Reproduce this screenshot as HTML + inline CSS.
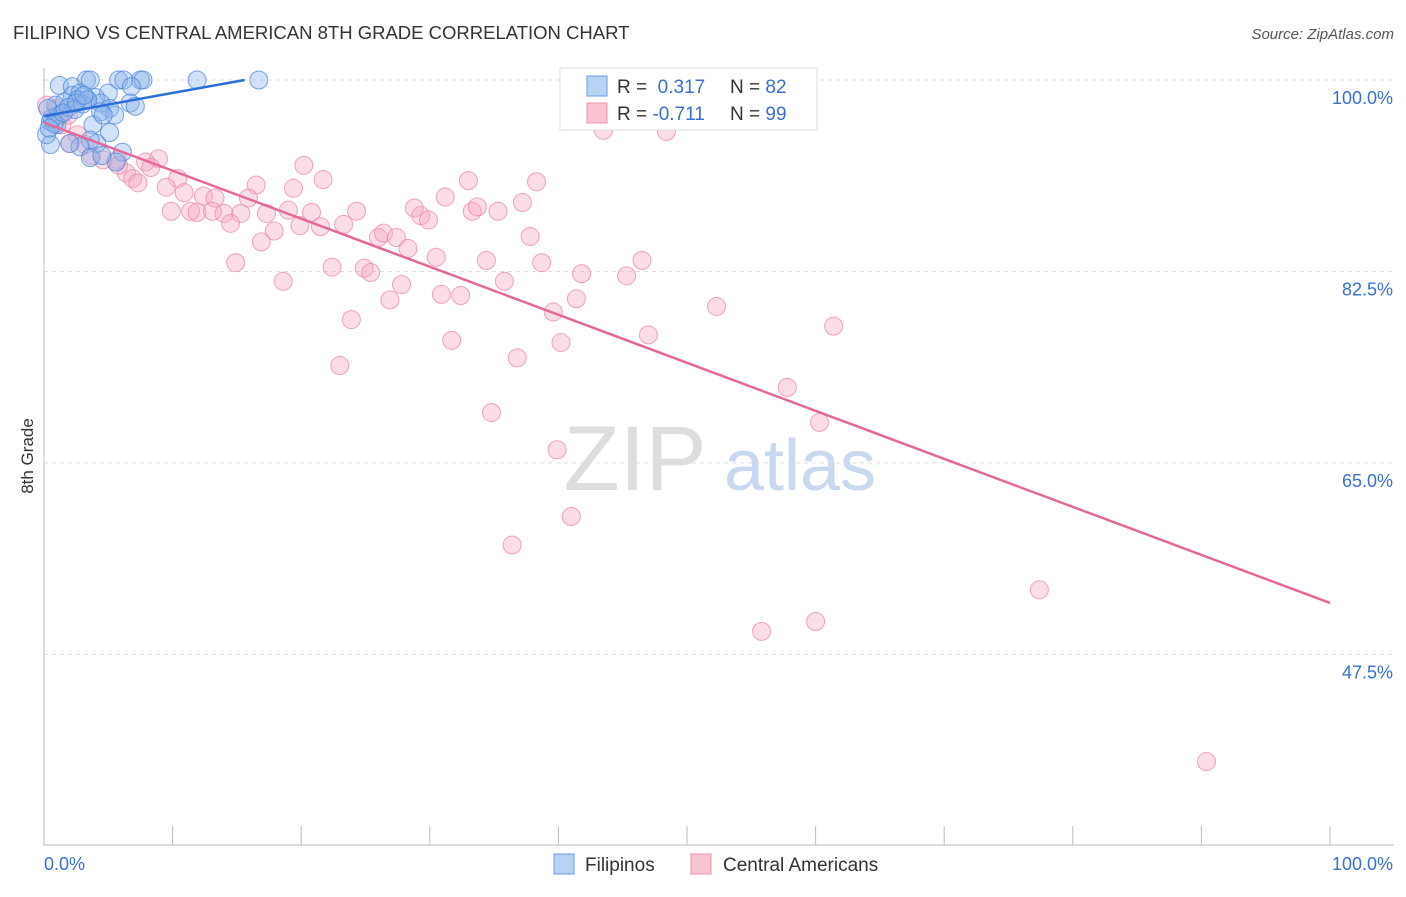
<!DOCTYPE html>
<html><head><meta charset="utf-8"><style>
body{margin:0;background:#fff;font-family:"Liberation Sans",sans-serif}
svg text{font-family:"Liberation Sans",sans-serif}
</style></head><body>
<svg id="chart" width="1406" height="892" xmlns="http://www.w3.org/2000/svg">
<text x="13" y="39" font-size="18.5" fill="#333">FILIPINO VS CENTRAL AMERICAN 8TH GRADE CORRELATION CHART</text>
<text x="1394" y="39" font-size="15" fill="#555" text-anchor="end" font-style="italic">Source: ZipAtlas.com</text>
<text transform="translate(33,456) rotate(-90)" font-size="17" fill="#333" text-anchor="middle">8th Grade</text>
<g><text x="635" y="490" font-size="92" fill="#ddd" text-anchor="middle" font-family="Liberation Serif">ZIP</text><text x="800" y="490" font-size="72" fill="#c8d8ee" text-anchor="middle">atlas</text></g>
<g id="grid"></g><g id="axes"></g><g id="pts"></g><g id="trend"></g>
<g>
<rect x="560" y="68" width="257" height="62" fill="#fff" stroke="#ddd"/>
<rect x="587" y="76" width="20" height="20" fill="#b8d2f4" stroke="#6a9de0"/>
<rect x="587" y="103" width="20" height="20" fill="#f8c4d2" stroke="#ea94ae"/>
<text x="617" y="93" font-size="19" fill="#333">R = <tspan fill="#3a6fd0">&#160;0.317</tspan><tspan x="730">N = </tspan><tspan fill="#3a6fd0">82</tspan></text>
<text x="617" y="120" font-size="19" fill="#333">R = <tspan fill="#3a6fd0">-0.711</tspan><tspan x="730">N = </tspan><tspan fill="#3a6fd0">99</tspan></text>
</g>
<g>
<rect x="554" y="854" width="20" height="20" fill="#b8d2f4" stroke="#6a9de0"/>
<text x="585" y="871" font-size="19" fill="#333">Filipinos</text>
<rect x="691" y="854" width="20" height="20" fill="#f8c4d2" stroke="#ea94ae"/>
<text x="723" y="871" font-size="19" fill="#333">Central Americans</text>
</g>
</svg>
<script>
const yTicks=[100,82.5,65,47.5];
const yTickLabels=["100.0%","82.5%","65.0%","47.5%"];
const xTicks=[0,10,20,30,40,50,60,70,80,90,100];
const blueX=[1.2,2.2,3.3,3.6,5.8,6.2,7.5,7.7,11.9,16.7,6.8,5.0,2.2,2.8,4.0,3.3,4.4,2.6,1.6,0.9,6.7,7.1,5.1,4.4,5.5,3.8,5.1,4.1,3.6,2.8,3.6,2.0,0.5,0.2,0.5,1.2,1.9,2.4,3.0,3.4,4.6,6.1,5.6,4.5,1.0,0.6,0.3,0.8,1.5,2.5,3.1,0.4];
const blueY=[99.5,99.4,100,100,100,100,100,100,100,100,99.4,98.8,98.6,98.8,98.4,98.2,97.9,98.2,98.0,97.7,97.9,97.6,97.4,97.1,96.8,95.9,95.2,94.2,94.5,93.9,92.9,94.2,94.1,95.0,96.2,96.8,97.5,97.3,97.8,98.2,96.8,93.4,92.5,93.1,95.9,96.5,97.4,96.0,97.0,97.9,98.6,95.6];
const pinkX=[43.5,48.4,20.2,21.7,19.4,16.5,10.4,8.9,7.9,8.3,6.4,6.9,7.3,9.5,10.9,12.4,13.3,15.9,9.9,11.4,11.9,13.1,14.0,15.3,14.5,17.3,19.0,20.8,19.9,21.5,23.3,24.3,17.9,16.9,14.9,18.6,22.4,24.9,25.4,26.0,26.4,27.4,28.3,28.8,29.3,29.9,31.2,33.0,33.3,33.7,35.3,37.2,38.3,37.8,30.5,34.4,35.8,38.7,27.8,26.9,30.9,32.4,23.9,31.7,23.0,36.8,39.6,41.4,41.8,40.2,45.3,46.5,47.0,52.3,61.4,57.8,60.3,34.8,39.9,41.0,36.4,55.8,60.0,77.4,90.4,0.2,0.9,1.4,2.0,2.6,3.7,4.6,5.7,5.8,1.9,1.0,3.2];
const pinkY=[95.4,95.3,92.2,90.9,90.1,90.4,91.0,92.8,92.5,92.0,91.5,91.0,90.6,90.2,89.7,89.4,89.2,89.2,88.0,88.0,87.9,88.0,87.8,87.8,86.9,87.8,88.1,87.9,86.7,86.6,86.8,88.0,86.2,85.2,83.3,81.6,82.9,82.8,82.4,85.6,86.0,85.6,84.6,88.3,87.6,87.2,89.3,90.8,88.0,88.4,88.0,88.8,90.7,85.7,83.8,83.5,81.6,83.3,81.3,79.9,80.4,80.3,78.1,76.2,73.9,74.6,78.8,80.0,82.3,76.0,82.1,83.5,76.7,79.3,77.5,71.9,68.7,69.6,66.2,60.1,57.5,49.6,50.5,53.4,37.7,97.7,96.5,95.9,94.2,95.0,93.1,92.7,92.7,92.2,96.8,97.4,94.1];
const blueTrendX=[0,15.6], blueTrendY=[96.7,100];
const pinkTrendX=[0,100], pinkTrendY=[96.1,52.2];
const NS="http://www.w3.org/2000/svg";
const sx=v=>44+v*12.86, sy=v=>80+(100-v)*10.94;
function mk(t,a,p){const e=document.createElementNS(NS,t);for(const k in a)e.setAttribute(k,a[k]);document.getElementById(p).appendChild(e);return e;}
yTicks.forEach((t,i)=>{
 const g=mk('line',{x1:44,x2:1394,y1:sy(t),y2:sy(t),stroke:'#ddd','stroke-dasharray':'4,4'},'grid');
 
 
 const l=mk('text',{x:1393,y:sy(t)+24,'font-size':18,fill:'#3a6fd0','text-anchor':'end'},'axes');l.textContent=yTickLabels[i];
 
 
});
mk('line',{x1:44,x2:44,y1:68,y2:845,stroke:'#bbb'},'axes');
mk('line',{x1:44,x2:1394,y1:845,y2:845,stroke:'#bbb'},'axes');
xTicks.forEach(t=>{const e=mk('line',{x1:sx(t),x2:sx(t),y1:826,y2:845,stroke:'#bbb'},'axes');
 
 });
let a=mk('text',{x:44,y:870,'font-size':18,fill:'#3a6fd0'},'axes');a.textContent='0.0%';


a=mk('text',{x:1393,y:870,'font-size':18,fill:'#3a6fd0','text-anchor':'end'},'axes');a.textContent='100.0%';


pinkX.forEach((x,i)=>{const c=mk('circle',{cx:sx(x),cy:sy(pinkY[i]),r:9,fill:'rgba(245,170,195,0.4)',stroke:'rgba(232,130,165,0.7)'},'pts');
 
 });
blueX.forEach((x,i)=>{const c=mk('circle',{cx:sx(x),cy:sy(blueY[i]),r:9,fill:'rgba(140,180,235,0.4)',stroke:'rgba(70,130,215,0.7)'},'pts');
 
 });
let t1=mk('line',{x1:sx(blueTrendX[0]),y1:sy(blueTrendY[0]),x2:sx(blueTrendX[1]),y2:sy(blueTrendY[1]),stroke:'#2a6fd6','stroke-width':2.5},'trend');


let t2=mk('line',{x1:sx(pinkTrendX[0]),y1:sy(pinkTrendY[0]),x2:sx(pinkTrendX[1]),y2:sy(pinkTrendY[1]),stroke:'#e5689a','stroke-width':2.5},'trend');


</script>
</body></html>
